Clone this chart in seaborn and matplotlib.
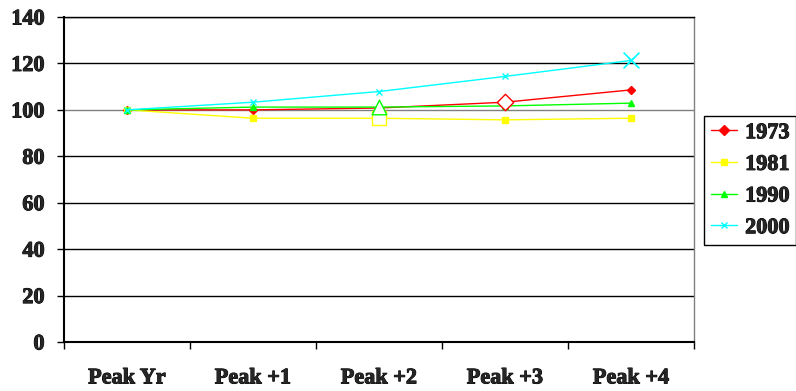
import matplotlib
matplotlib.use("Agg")
import matplotlib.pyplot as plt
import matplotlib.patheffects as pe
import seaborn as sns
import pandas as pd

categories = ["Peak Yr", "Peak +1", "Peak +2", "Peak +3", "Peak +4"]
s1973 = [100, 100.0, 100.8, 103.3, 108.6]
s1981 = [100, 96.4, 96.4, 95.7, 96.4]
s1990 = [100, 101.2, 101.2, 101.7, 102.9]
s2000 = [100, 103.3, 107.9, 114.4, 121.3]
series_names = ["1973", "1981", "1990", "2000"]
colors = {"1973": "#FF0000", "1981": "#FFFF00", "1990": "#00FF00", "2000": "#00FFFF"}
markers = {"1973": "D", "1981": "s", "1990": "^", "2000": "x"}
# highlighted point per series: (category index)
highlight_idx = {"1973": 3, "1981": 2, "1990": 2, "2000": 4}
yticks = [0, 20, 40, 60, 80, 100, 120, 140]

sns.set_theme(style="white")
plt.rcParams["font.family"] = ["Liberation Serif", "DejaVu Serif"]
plt.rcParams["font.weight"] = "bold"

rows = []
for name, vals in zip(series_names, [s1973, s1981, s1990, s2000]):
    for i, v in enumerate(vals):
        rows.append({"pos": i, "value": v, "series": name})
df = pd.DataFrame(rows)

fig = plt.figure(figsize=(7.96, 3.91), dpi=100)
ax = fig.add_axes([0.0804, 0.1253, 0.7915, 0.8312])

for y in yticks:
    ax.axhline(y, color="#808080" if y == 100 else "black", lw=1.0, zorder=0)

for name in series_names:
    sub = df[df["series"] == name]
    m = markers[name]
    sns.lineplot(data=sub, x="pos", y="value", color=colors[name], marker=m,
                 markersize=5 if m != "D" else 4.5, markeredgewidth=1.0,
                 markeredgecolor=colors[name], lw=1.0, ax=ax, legend=False, zorder=3)

# enlarged hollow marker on one point of each series
hl = df[[r.pos == highlight_idx[r.series] for r in df.itertuples()]]
for r in hl.itertuples():
    c = colors[r.series]
    m = markers[r.series]
    if m == "x":
        ax.scatter(r.pos, r.value, marker="x", s=130, color=c, linewidths=1.2, zorder=4)
    else:
        ax.scatter(r.pos, r.value, marker=m, s=110 if m != "D" else 70, facecolors="white",
                   edgecolors=c, linewidths=1.0, zorder=4)

heavy = [pe.withStroke(linewidth=0.7, foreground="black")]

ax.set_xlim(-0.5, 4.5)
ax.set_ylim(0, 140)
ax.set_yticks(yticks)
ax.set_yticklabels([str(v) for v in yticks], fontsize=16, fontweight="bold")
ax.set_xticks([i - 0.5 for i in range(len(categories) + 1)])
ax.set_xticklabels([])
ax.set_xticks(range(len(categories)), minor=True)
ax.set_xticklabels(categories, minor=True, fontsize=16, fontweight="bold")
for t in ax.get_yticklabels() + ax.get_xticklabels(minor=True):
    t.set_path_effects(heavy)
ax.tick_params(axis="x", which="major", direction="out", length=5, width=1, color="black", bottom=True)
ax.tick_params(axis="x", which="minor", length=0, pad=19)
ax.tick_params(axis="y", direction="out", length=5, width=1, color="black", left=True, pad=9)
ax.set_xlabel("")
ax.set_ylabel("")
for side in ["left", "bottom", "top", "right"]:
    ax.spines[side].set_visible(True)
    ax.spines[side].set_color("black")
    ax.spines[side].set_linewidth(1.0)
ax.spines["left"].set_linewidth(1.5)
ax.spines["bottom"].set_linewidth(1.5)
ax.spines["right"].set_color("#808080")

handles = [plt.Line2D([], [], color=colors[n], marker=markers[n], markersize=5, lw=1.0)
           for n in series_names]
leg = fig.legend(handles, series_names, loc="upper left", bbox_to_anchor=(704 / 796, 1 - 116 / 391),
                 frameon=True, fancybox=False, edgecolor="black", framealpha=1,
                 prop={"family": "Liberation Serif", "weight": "bold", "size": 16},
                 handlelength=1.2, labelspacing=0.5, borderpad=0.3, borderaxespad=0,
                 handletextpad=0.35)
leg.get_frame().set_linewidth(1.0)
for t in leg.get_texts():
    t.set_path_effects(heavy)

fig.savefig("out.png", dpi=100)
